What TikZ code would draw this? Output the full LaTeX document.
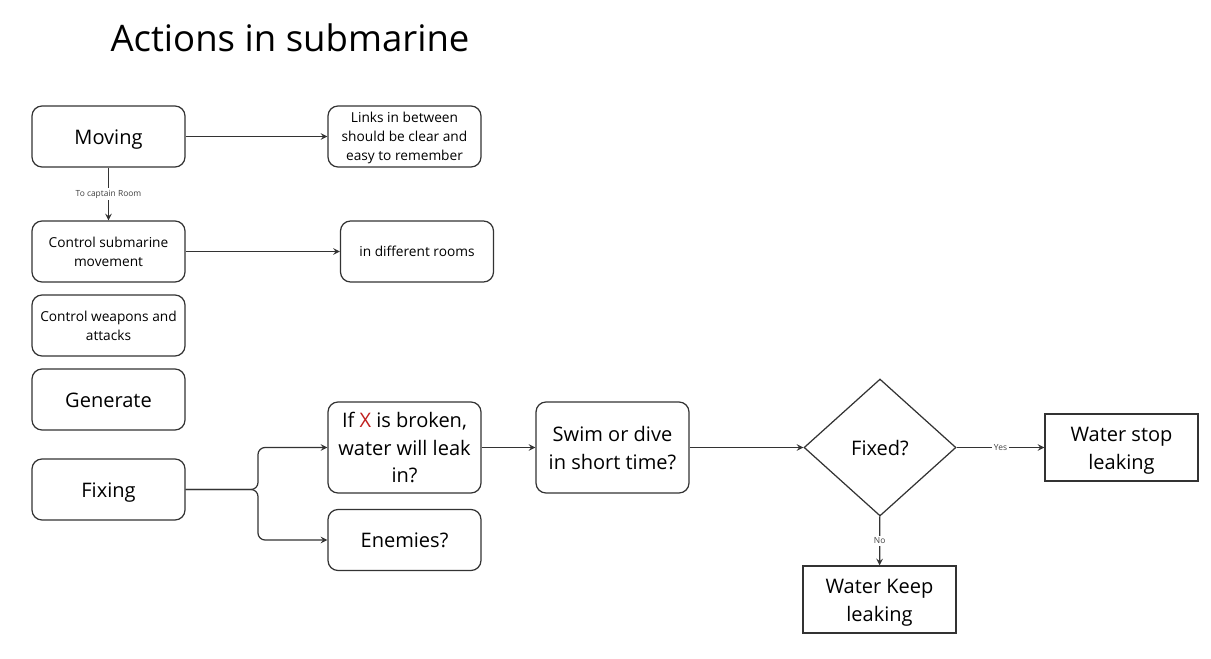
\documentclass[tikz,border=0pt]{standalone}
\usepackage{fontspec}
\setmainfont{Open Sans}
\usetikzlibrary{shapes.geometric}
\definecolor{linegray}{HTML}{333333}
\definecolor{xred}{HTML}{C0201E}
\newcommand{\boxstrut}{\rule[-0.29em]{0pt}{1.36em}}

\begin{document}
\begin{tikzpicture}
  [x=0.02cm,y=-0.02cm,>=stealth,line width=0.7pt,
   box/.style={draw=linegray,rounded corners=0.2cm,minimum width=3.06cm,minimum height=1.22cm,align=center,inner sep=1pt,font=\fontsize{7.8}{10.8}\selectfont},
   bigbox/.style={box,font=\fontsize{11.4}{15.6}\selectfont},
   sqbox/.style={draw=linegray,minimum width=3.06cm,minimum height=1.34cm,align=center,inner sep=1pt,font=\fontsize{11.4}{15.6}\selectfont},
   decision/.style={draw=linegray,diamond,aspect=1.1,minimum width=3.04cm,minimum height=2.74cm,inner sep=0pt,font=\fontsize{11.4}{15.6}\selectfont},
   lbl/.style={fill=white,inner sep=1pt,text=black!75,font=\fontsize{4.8}{6}\selectfont},]

\useasboundingbox (0,0) rectangle (1211,659);

\node (title) at (290,38) {\fontsize{20.8}{25}\selectfont Actions in submarine};

\node[bigbox] (moving) at (108.5,136.5) {\boxstrut Moving};
\node[box] (links) at (404.5,136.5) {\boxstrut Links in between\\should be clear and\\easy to remember\boxstrut};
\node[box] (ctrlmove) at (108.5,251.5) {\boxstrut Control submarine\\movement\boxstrut};
\node[box] (rooms) at (417,251.5) {\boxstrut in different rooms};
\node[box] (weapons) at (108.5,325.5) {\boxstrut Control weapons and\\attacks\boxstrut};
\node[bigbox] (generate) at (108.5,399.5) {\boxstrut Generate};
\node[bigbox] (fixing) at (108.5,489.5) {\boxstrut Fixing};
\node[bigbox,minimum height=1.82cm] (leak) at (404.5,447.5) {\boxstrut If {\color{xred}X} is broken,\\water will leak\\in?\boxstrut};
\node[bigbox] (enemies) at (404.5,540) {\boxstrut Enemies?};
\node[bigbox,minimum height=1.82cm] (swim) at (612.5,447.5) {\boxstrut Swim or dive\\in short time?\boxstrut};
\node[decision] (fixed) at (880,447.5) {\boxstrut Fixed?};
\node[sqbox] (stop) at (1121.5,447.5) {\boxstrut Water stop\\leaking\boxstrut};
\node[sqbox] (keep) at (879.5,599.5) {\boxstrut Water Keep\\leaking\boxstrut};

\coordinate (split) at (258,489.5);

\draw[->,linegray] (moving) -- (links);
\draw[->,linegray] (moving) -- node[lbl]{To captain Room} (ctrlmove);
\draw[->,linegray] (ctrlmove) -- (rooms);
\draw[->,linegray,rounded corners=4pt] (fixing.east) -- (split) |- (leak.west);
\draw[->,linegray,rounded corners=4pt] (fixing.east) -- (split) |- (enemies.west);
\draw[->,linegray] (leak) -- (swim);
\draw[->,linegray] (swim) -- (fixed);
\draw[->,linegray] (fixed) -- node[lbl]{Yes} (stop);
\draw[->,linegray] (fixed) -- node[lbl]{No} (keep);

\end{tikzpicture}
\end{document}
